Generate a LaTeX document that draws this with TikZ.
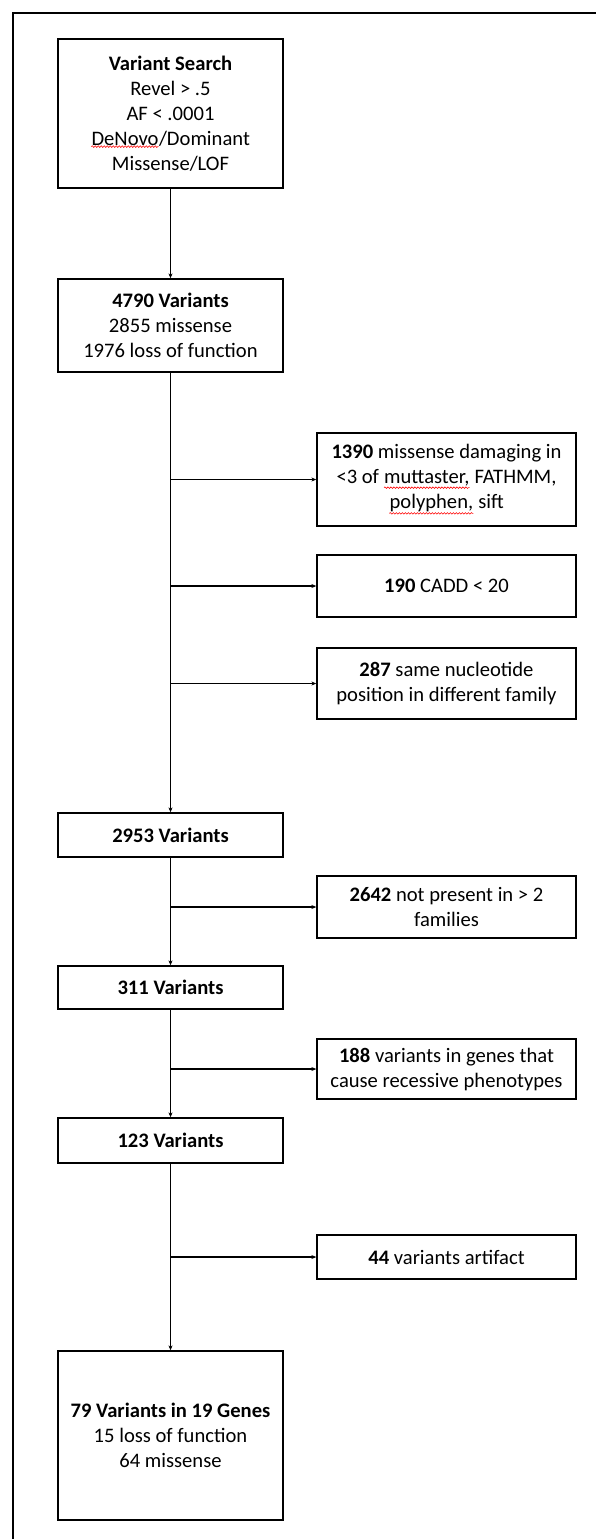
\documentclass[tikz,border=0pt]{standalone}
\usepackage{fontspec}
\setmainfont{Carlito}
\usetikzlibrary{arrows.meta,decorations.pathmorphing}
\newcommand\spellwave[1]{\tikz[baseline=(sw.base)]{\node[inner sep=0pt, draw=none, minimum width=0pt, minimum height=0pt] (sw) {#1};
  \draw[red, line width=0.6pt, decorate, decoration={snake, amplitude=0.8pt, segment length=3pt}] ([yshift=-1pt]sw.south west) -- ([yshift=-1pt]sw.south east);}}
\tikzset{
  box/.style={draw, line width=1.3pt, align=center, inner sep=0pt, font=\fontsize{20.6}{25}\selectfont},
  mainbox/.style={box, minimum width=225pt},
  sidebox/.style={box, minimum width=259pt},
  flow/.style={line width=1.3pt, -{Stealth[length=5pt,width=4pt]}}
}
\begin{document}
\begin{tikzpicture}[x=1pt,y=-1pt]
\useasboundingbox (0,0) rectangle (596,1539);
\clip (0,0) rectangle (596,1539);
\draw[line width=2pt] (13,1560) -- (13,13) -- (620,13);
\node[mainbox, minimum height=149pt] (search) at (170.5,113.5) {\textbf{Variant Search}\\Revel > .5\\AF < .0001\\\spellwave{DeNovo}/Dominant\\Missense/LOF};
\node[mainbox, minimum height=93pt] (v4790) at (170.5,325.5) {\textbf{4790 Variants}\\2855 missense\\1976 loss of function};
\node[sidebox, minimum height=93pt] (f1390) at (446.5,479.5) {\textbf{1390} missense damaging in\\<3 of \spellwave{muttaster,} FATHMM,\\\spellwave{polyphen,} sift};
\node[sidebox, minimum height=62pt] (f190) at (446.5,586) {\textbf{190} CADD < 20};
\node[sidebox, minimum height=71pt] (f287) at (446.5,683.5) {\textbf{287} same nucleotide\\position in different family};
\node[mainbox, minimum height=44pt] (v2953) at (170.5,835) {\textbf{2953 Variants}};
\node[sidebox, minimum height=62pt] (f2642) at (446.5,907) {\textbf{2642} not present in > 2\\families};
\node[mainbox, minimum height=43pt] (v311) at (170.5,987.5) {\textbf{311 Variants}};
\node[sidebox, minimum height=60pt] (f188) at (446.5,1069) {\textbf{188} variants in genes that\\cause recessive phenotypes};
\node[mainbox, minimum height=45pt] (v123) at (170.5,1140.5) {\textbf{123 Variants}};
\node[sidebox, minimum height=44pt] (f44) at (446.5,1257) {\textbf{44} variants artifact};
\node[mainbox, minimum height=169pt] (v79) at (170.5,1435.5) {\textbf{79 Variants in 19 Genes}\\15 loss of function\\64 missense};
\draw[flow] (search) -- (v4790);
\draw[flow] (v4790) -- (v2953);
\draw[flow] (v4790.south |- f1390.west) -- (f1390.west);
\draw[flow] (v4790.south |- f190.west) -- (f190.west);
\draw[flow] (v4790.south |- f287.west) -- (f287.west);
\draw[flow] (v2953) -- (v311);
\draw[flow] (v2953.south |- f2642.west) -- (f2642.west);
\draw[flow] (v311) -- (v123);
\draw[flow] (v311.south |- f188.west) -- (f188.west);
\draw[flow] (v123) -- (v79);
\draw[flow] (v123.south |- f44.west) -- (f44.west);
\end{tikzpicture}
\end{document}
